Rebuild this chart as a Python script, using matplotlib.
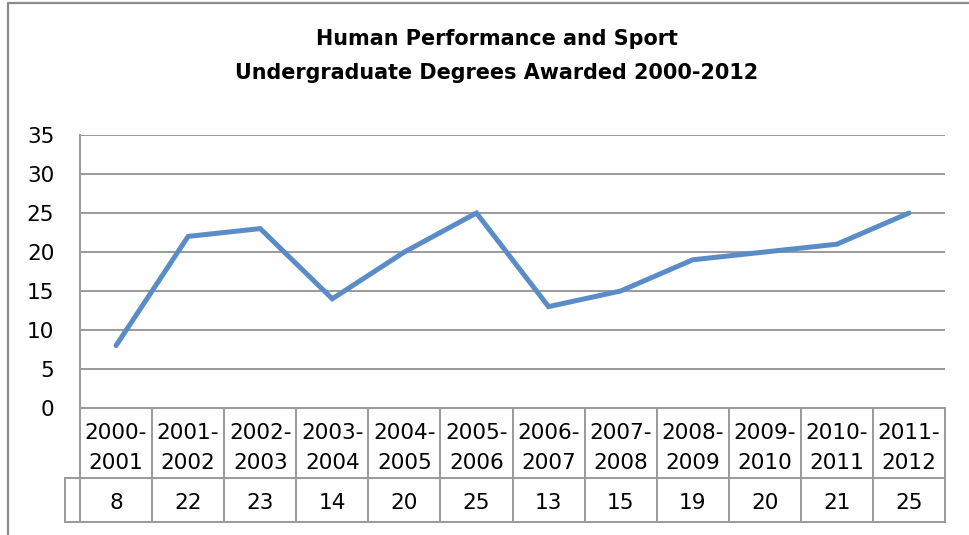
import matplotlib
matplotlib.use("Agg")
import matplotlib.pyplot as plt
from matplotlib.lines import Line2D
import matplotlib.transforms as mtrans

plt.rcParams['font.family'] = ['DejaVu Sans']

categories = ["2000-\n2001", "2001-\n2002", "2002-\n2003", "2003-\n2004", "2004-\n2005", "2005-\n2006",
              "2006-\n2007", "2007-\n2008", "2008-\n2009", "2009-\n2010", "2010-\n2011", "2011-\n2012"]
values = [8, 22, 23, 14, 20, 25, 13, 15, 19, 20, 21, 25]
yticks = [0, 5, 10, 15, 20, 25, 30, 35]
title_lines = ["Human Performance and Sport", "Undergraduate Degrees Awarded 2000-2012"]

W, H = 969, 535
fig = plt.figure(figsize=(W / 100, H / 100), dpi=100)
renderer = fig.canvas.get_renderer()

def fx(px):
    return px / W

def fy(py):
    return 1 - py / H

def fit_size(s, target_px, weight="normal"):
    t = fig.text(0, 0, s, fontsize=10, fontweight=weight)
    w = t.get_window_extent(renderer).width
    t.remove()
    return 10 * target_px / w

fs = fit_size("2000-", 62)
fs_title = fit_size(title_lines[0], 362, "bold")

gc = "#9A9A9A"
glw = 1.4

left, right, top, bottom = 80, 945, 135, 408
ax = fig.add_axes([fx(left), fy(bottom), fx(right) - fx(left), fy(top) - fy(bottom)])
n = len(values)
x = list(range(n))
ax.plot(x, values, color="#5A8DC8", lw=3.6, solid_joinstyle="miter", solid_capstyle="round", zorder=3)
ax.set_xlim(-0.5, n - 0.5)
ax.set_ylim(0, 35)
ax.set_yticks(yticks)
ax.set_yticklabels([str(t) for t in yticks], fontsize=fs)
ax.tick_params(axis='y', length=0, pad=18.5)
ax.set_xticks([])
for t in yticks:
    ax.axhline(t, color=gc, lw=glw, zorder=1)
for s in ["top", "right", "bottom"]:
    ax.spines[s].set_visible(False)
ax.spines["left"].set_color(gc)
ax.spines["left"].set_linewidth(glw)

# Data table below plot
tr = mtrans.blended_transform_factory(ax.transData, fig.transFigure)
y_hdr_top, y_hdr_bot, y_val_bot = 408, 478, 522
fig.add_artist(Line2D([fx(left), fx(right)], [fy(y_hdr_top)] * 2, color=gc, lw=glw))
fig.add_artist(Line2D([fx(65), fx(right)], [fy(y_hdr_bot)] * 2, color=gc, lw=glw))
fig.add_artist(Line2D([fx(65), fx(right)], [fy(y_val_bot)] * 2, color=gc, lw=glw))
fig.add_artist(Line2D([fx(65), fx(65)], [fy(y_hdr_bot), fy(y_val_bot)], color=gc, lw=glw))
fig.add_artist(Line2D([fx(left), fx(left)], [fy(y_hdr_top), fy(y_val_bot)], color=gc, lw=glw))
for i in range(n):
    xb = i + 0.5
    fig.add_artist(Line2D([xb, xb], [fy(y_hdr_top), fy(y_val_bot)], color=gc, lw=glw, transform=tr))
for i, (c, v) in enumerate(zip(categories, values)):
    top_line, bot_line = c.split("\n")
    fig.text(i, fy(433), top_line, transform=tr, ha="center", va="center", fontsize=fs)
    fig.text(i, fy(463), bot_line, transform=tr, ha="center", va="center", fontsize=fs)
    fig.text(i, fy(503), str(v), transform=tr, ha="center", va="center", fontsize=fs)

# Title
fig.text(fx(497), fy(39), title_lines[0], ha="center", va="center", fontsize=fs_title, fontweight="bold")
fig.text(fx(497), fy(73), title_lines[1], ha="center", va="center", fontsize=fs_title, fontweight="bold")

# Outer chart border
fig.add_artist(Line2D([fx(8), fx(8), 1.0], [0.0, fy(3), fy(3)], color="#8C8C8C", lw=1.6))

fig.savefig("out.png", dpi=100, facecolor="white")
